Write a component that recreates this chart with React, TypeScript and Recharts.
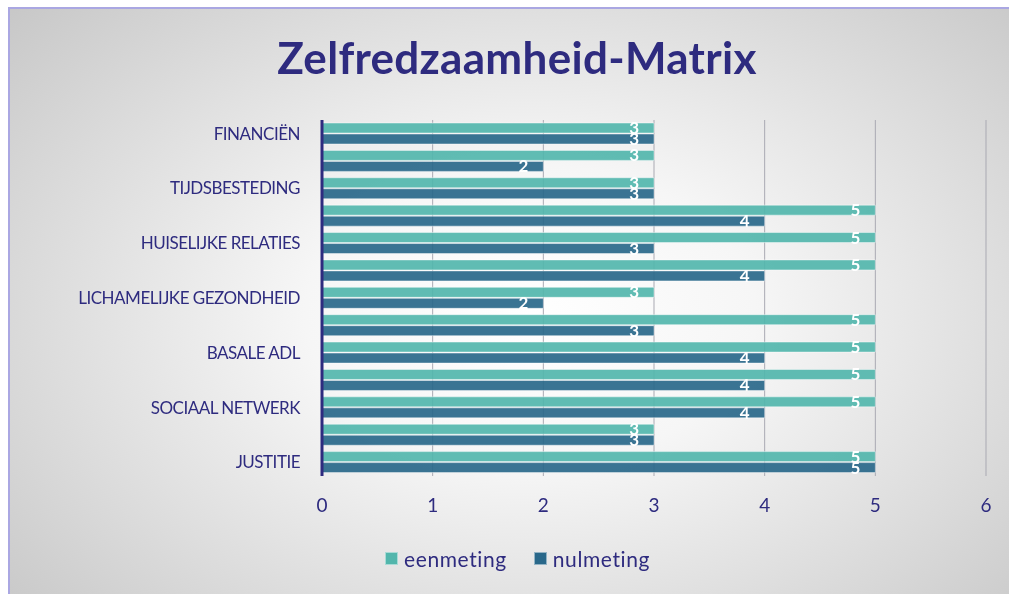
import { BarChart, Bar, XAxis, YAxis, CartesianGrid, LabelList } from "recharts";

const categories = [
  "FINANCIËN",
  "WERK & OPLEIDING",
  "TIJDSBESTEDING",
  "HUISVESTING",
  "HUISELIJKE RELATIES",
  "GEESTELIJKE GEZONDHEID",
  "LICHAMELIJKE GEZONDHEID",
  "MIDDELENGEBRUIK",
  "BASALE ADL",
  "INSTRUMENTELE ADL",
  "SOCIAAL NETWERK",
  "MAATSCHAPPELIJKE PARTICIPATIE",
  "JUSTITIE",
];
const eenmeting = [3, 3, 3, 5, 5, 5, 3, 5, 5, 5, 5, 3, 5];
const nulmeting = [3, 2, 3, 4, 3, 4, 2, 3, 4, 4, 4, 3, 5];
const xTicks = [0, 1, 2, 3, 4, 5, 6];

const TEAL = "#52b6ac";
const DARK = "#29688a";
const INK = "#2e2b7f";
const FONT = "Lato, 'Open Sans', sans-serif";

const data = categories.map((name, i) => ({
  name,
  eenmeting: eenmeting[i],
  nulmeting: nulmeting[i],
}));

export default function App() {
  return (
    <div
      style={{
        position: "fixed",
        left: 8,
        top: 7,
        width: 1003,
        height: 590,
        boxSizing: "border-box",
        borderTop: "2px solid #aaa7e2",
        borderLeft: "2px solid #aaa7e2",
        background:
          "radial-gradient(ellipse 75% 85% at 52% 52%, #ffffff 0%, #f6f6f6 30%, #c2c2c2 100%)",
        fontFamily: FONT,
        overflow: "hidden",
      }}
    >
      <div
        style={{
          position: "absolute",
          left: 507,
          top: 26,
          transform: "translateX(-50%)",
          fontSize: 44,
          lineHeight: "44px",
          fontWeight: 700,
          letterSpacing: 0.3,
          color: INK,
          whiteSpace: "nowrap",
        }}
      >
        Zelfredzaamheid-Matrix
      </div>
      <div style={{ position: "absolute", left: 0, top: 0 }}>
        <BarChart
          width={999}
          height={584}
          data={data}
          layout="vertical"
          margin={{ top: 111, right: 23, bottom: 77, left: 0 }}
          barSize={10}
          barGap={1}
        >
          <CartesianGrid horizontal={false} stroke="#a9a9b2" />
          <XAxis
            type="number"
            domain={[0, 6]}
            ticks={xTicks}
            axisLine={false}
            tickLine={false}
            tickSize={0}
            tickMargin={23}
            height={40}
            tick={{ fill: INK, fontSize: 19, fontFamily: FONT }}
          />
          <YAxis
            type="category"
            dataKey="name"
            width={312}
            interval={1}
            tickLine={false}
            tickSize={0}
            tickMargin={22}
            axisLine={{ stroke: INK, strokeWidth: 3 }}
            tick={{ fill: INK, fontSize: 17, fontFamily: FONT, letterSpacing: -0.5 }}
          />
          <Bar
            dataKey="eenmeting"
            fill={TEAL}
            fillOpacity={0.92}
            stroke="rgba(255,255,255,0.45)"
            isAnimationActive={false}
          >
            <LabelList
              dataKey="eenmeting"
              position="insideRight"
              offset={15}
              fill="#ffffff"
              fontSize={17}
              fontWeight={700}
              fontFamily={FONT}
            />
          </Bar>
          <Bar
            dataKey="nulmeting"
            fill={DARK}
            fillOpacity={0.92}
            stroke="rgba(255,255,255,0.45)"
            isAnimationActive={false}
          >
            <LabelList
              dataKey="nulmeting"
              position="insideRight"
              offset={15}
              fill="#ffffff"
              fontSize={17}
              fontWeight={700}
              fontFamily={FONT}
            />
          </Bar>
        </BarChart>
      </div>
      <div
        style={{
          position: "absolute",
          top: 537,
          left: 375,
          display: "flex",
          alignItems: "center",
          gap: 27,
          fontSize: 21,
          letterSpacing: 0.6,
          color: INK,
        }}
      >
        {[
          { label: "eenmeting", color: TEAL },
          { label: "nulmeting", color: DARK },
        ].map((s) => (
          <div key={s.label} style={{ display: "flex", alignItems: "center", gap: 6 }}>
            <span
              style={{
                display: "inline-block",
                width: 13,
                height: 13,
                background: s.color,
                boxSizing: "border-box",
                border: "1px solid rgba(255,255,255,0.5)",
              }}
            />
            <span>{s.label}</span>
          </div>
        ))}
      </div>
    </div>
  );
}
